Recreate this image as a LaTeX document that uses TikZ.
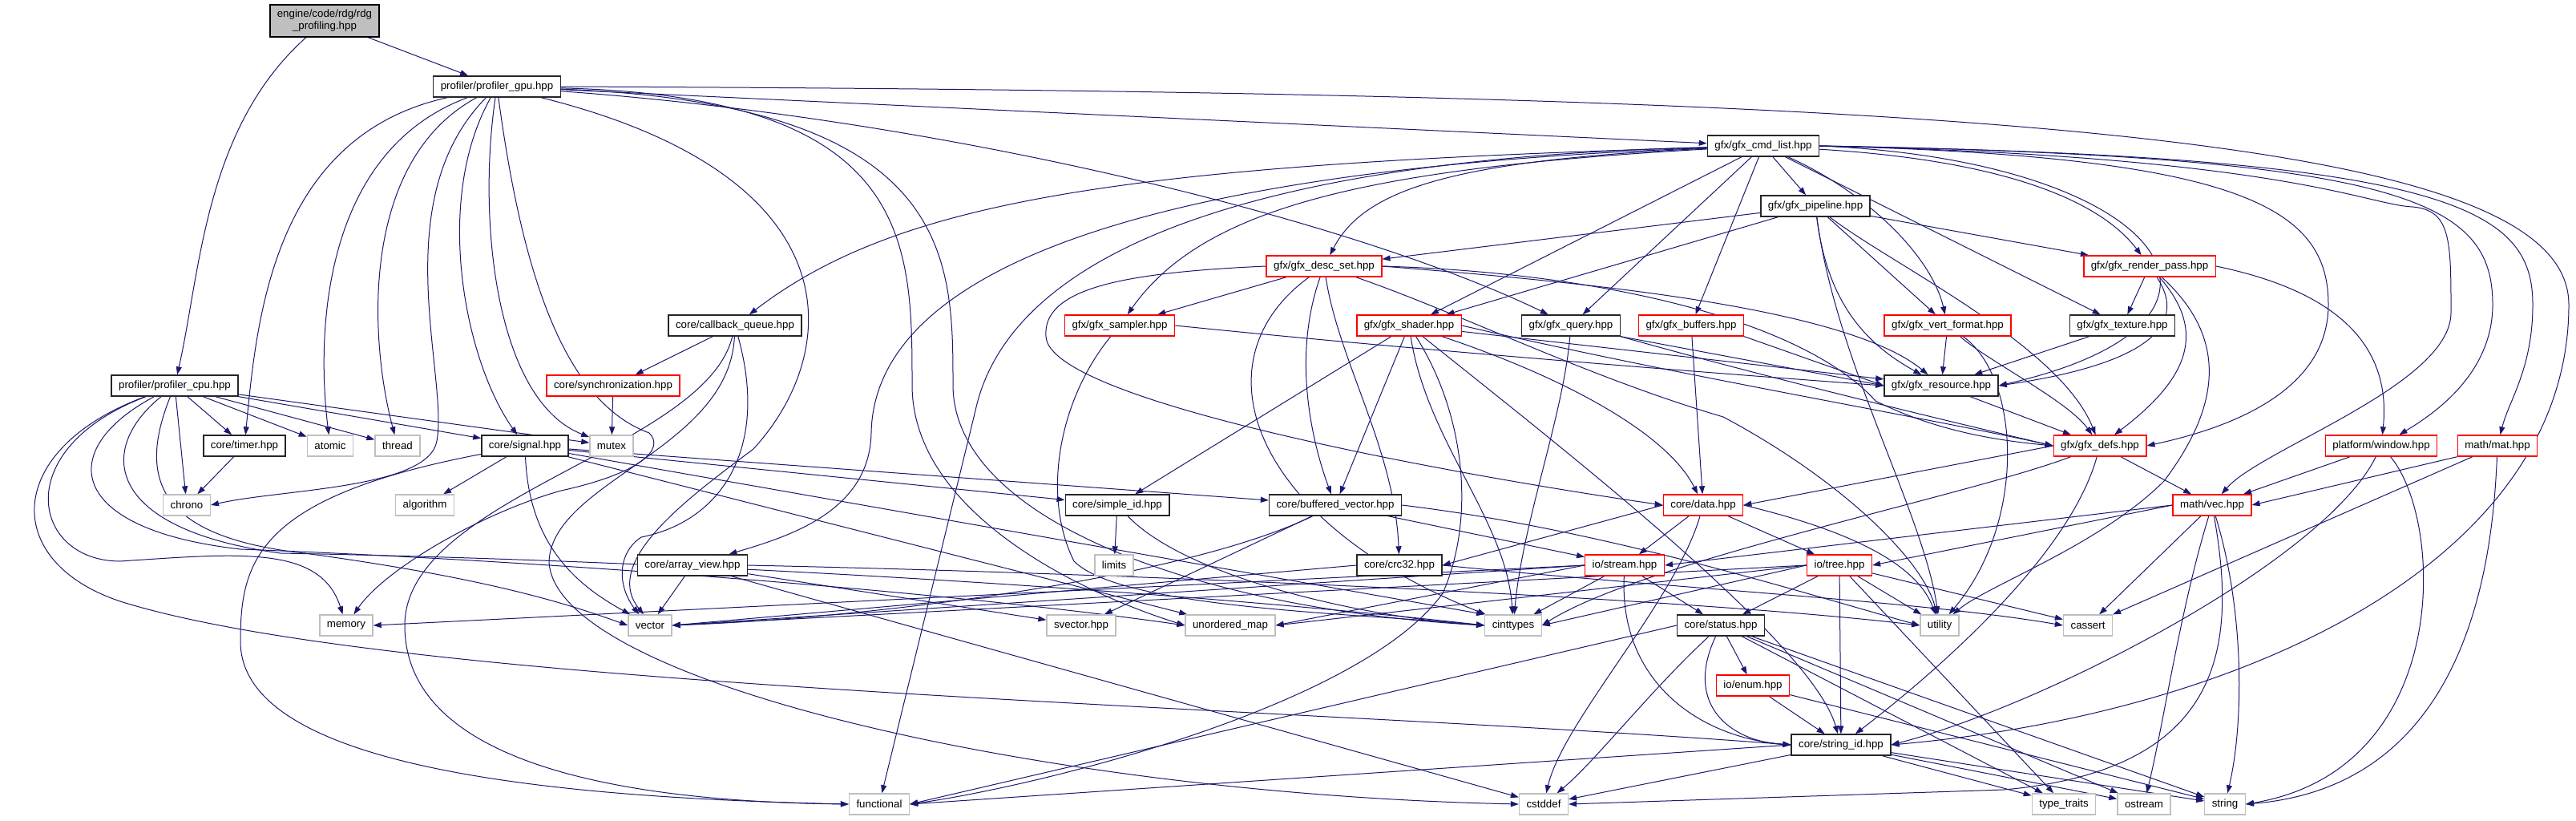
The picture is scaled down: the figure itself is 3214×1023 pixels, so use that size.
\documentclass[tikz,border=0pt]{standalone}
\usepackage{fontspec}
\setmainfont{Liberation Sans}
\usetikzlibrary{arrows.meta, backgrounds}
\definecolor{depblue}{HTML}{191970}
\definecolor{sysgray}{HTML}{BFBFBF}
\definecolor{rootgray}{HTML}{BFBFBF}

\begin{document}
\begin{tikzpicture}[
    x=1pt, y=-1pt,
    font=\fontsize{13.3}{15}\selectfont,
    filebox/.style={rectangle, fill=white, minimum height=26pt, inner xsep=9pt, inner ysep=0pt},
    inc/.style={filebox, draw=black!85, line width=1.4pt},
    incred/.style={filebox, draw=red, line width=1.4pt},
    sys/.style={filebox, draw=sysgray, line width=1.4pt},
    rootfile/.style={filebox, draw=black, fill=rootgray, line width=1.4pt, align=center, minimum height=40pt},
    dep/.style={->, draw=depblue, line width=1pt},
    >={Triangle[length=10pt, width=7pt]}
  ]
    \useasboundingbox (0,0) rectangle (3214,1023);

    % top files
    \node[rootfile] (root) at (405,26) {engine/code/rdg/rdg\\\_profiling.hpp};
    \node[inc] (gpu) at (620,108) {profiler/profiler\_gpu.hpp};
    \node[inc] (cmdlist) at (2200,182) {gfx/gfx\_cmd\_list.hpp};
    \node[inc] (pipeline) at (2265,257) {gfx/gfx\_pipeline.hpp};
    \node[incred] (descset) at (1652,332) {gfx/gfx\_desc\_set.hpp};
    \node[incred] (renderpass) at (2682,332) {gfx/gfx\_render\_pass.hpp};

    % gfx row
    \node[inc] (cbq) at (917,406) {core/callback\_queue.hpp};
    \node[incred] (sampler) at (1397,406) {gfx/gfx\_sampler.hpp};
    \node[incred] (shader) at (1758,406) {gfx/gfx\_shader.hpp};
    \node[inc] (query) at (1960,406) {gfx/gfx\_query.hpp};
    \node[incred] (buffers) at (2110,406) {gfx/gfx\_buffers.hpp};
    \node[incred] (vertfmt) at (2430,406) {gfx/gfx\_vert\_format.hpp};
    \node[inc] (texture) at (2648,406) {gfx/gfx\_texture.hpp};
    \node[inc] (cpu) at (218,481) {profiler/profiler\_cpu.hpp};
    \node[incred] (sync) at (765,481) {core/synchronization.hpp};
    \node[inc] (resource) at (2422,481) {gfx/gfx\_resource.hpp};

    % middle rows
    \node[inc] (timer) at (305,556) {core/timer.hpp};
    \node[sys] (atomic) at (412,556) {atomic};
    \node[sys] (thread) at (496,556) {thread};
    \node[inc] (signal) at (655,556) {core/signal.hpp};
    \node[sys] (mutex) at (763,556) {mutex};
    \node[incred] (gfxdefs) at (2620,556) {gfx/gfx\_defs.hpp};
    \node[incred] (window) at (2971,556) {platform/window.hpp};
    \node[incred] (mat) at (3116,556) {math/mat.hpp};
    \node[sys] (chrono) at (233,630) {chrono};
    \node[sys] (algorithm) at (530,630) {algorithm};
    \node[inc] (simpleid) at (1394,630) {core/simple\_id.hpp};
    \node[inc] (bufvec) at (1666,630) {core/buffered\_vector.hpp};
    \node[incred] (data) at (2125,630) {core/data.hpp};
    \node[incred] (vec) at (2760,630) {math/vec.hpp};
    \node[inc] (arrayview) at (864,705) {core/array\_view.hpp};
    \node[sys] (limits) at (1390,705) {limits};
    \node[inc] (crc) at (1746,705) {core/crc32.hpp};
    \node[incred] (stream) at (2027,705) {io/stream.hpp};
    \node[incred] (tree) at (2295,705) {io/tree.hpp};

    % lower rows
    \node[sys] (memory) at (432,780) {memory};
    \node[sys] (vector) at (811,780) {vector};
    \node[sys] (svector) at (1349,780) {svector.hpp};
    \node[sys] (umap) at (1535,780) {unordered\_map};
    \node[sys] (cinttypes) at (1888,780) {cinttypes};
    \node[inc] (status) at (2147,780) {core/status.hpp};
    \node[sys] (utility) at (2420,780) {utility};
    \node[sys] (cassert) at (2605,780) {cassert};
    \node[incred] (enum) at (2187,855) {io/enum.hpp};
    \node[inc] (stringid) at (2297,929) {core/string\_id.hpp};
    \node[sys] (functional) at (1097,1003) {functional};
    \node[sys] (cstddef) at (1926,1003) {cstddef};
    \node[sys] (typetraits) at (2575,1003) {type\_traits};
    \node[sys] (ostream) at (2675,1003) {ostream};
    \node[sys] (string) at (2776,1003) {string};

    \begin{pgfonlayer}{background}
    \fill[white] (0,0) rectangle (3214,1023);

    % ---- rdg_profiling ----
    \draw[dep] (root) -- (gpu);
    \draw[dep] (root) .. controls (255,160) and (250,340) .. (cpu);

    % ---- profiler_gpu ----
    \draw[dep] (gpu) -- (cmdlist);
    \draw[dep] (gpu) .. controls (1200,150) and (1700,280) .. (query);
    \draw[dep] (gpu.east) .. controls (2500,115) and (3205,170) .. (3205,380) .. controls (3205,700) and (2800,890) .. (stringid.east);
    \draw[dep] (gpu) .. controls (340,170) and (320,400) .. (timer);
    \draw[dep] (gpu) .. controls (400,190) and (395,420) .. (atomic);
    \draw[dep] (gpu) .. controls (450,200) and (460,420) .. (thread);
    \draw[dep] (gpu) .. controls (480,250) and (560,470) .. (545,550) .. controls (535,610) and (350,610) .. (chrono.east);
    \draw[dep] (gpu) .. controls (540,250) and (580,450) .. (signal);
    \draw[dep] (gpu) .. controls (595,280) and (620,500) .. (mutex);
    \draw[dep] (gpu) .. controls (650,330) and (700,500) .. (810,540) .. controls (830,560) and (800,590) .. (700,612) .. controls (600,640) and (480,710) .. (memory);
    \draw[dep] (gpu) .. controls (1070,220) and (1050,440) .. (940,560) .. controls (860,620) and (750,700) .. ([xshift=-8pt]vector.north);
    \draw[dep] (gpu) .. controls (1138,120) and (1138,300) .. (1138,480) .. controls (1138,640) and (1350,740) .. (umap.west);
    \draw[dep] (gpu) .. controls (1189,130) and (1189,320) .. (1189,480) .. controls (1189,650) and (1500,760) .. (cinttypes.west);

    % ---- profiler_cpu ----
    \draw[dep] (cpu) -- (timer);
    \draw[dep] (cpu) -- (atomic);
    \draw[dep] (cpu) -- (thread);
    \draw[dep] (cpu) -- (signal);
    \draw[dep] (cpu) -- (mutex);
    \draw[dep] (cpu) -- (chrono);
    \draw[dep] (cpu) .. controls (10,560) and (40,700) .. (150,700) .. controls (300,690) and (400,680) .. (memory);
    \draw[dep] (cpu) .. controls (5,560) and (0,700) .. (150,750) .. controls (500,860) and (1600,880) .. (stringid.west);
    \draw[dep] (cpu) .. controls (70,560) and (80,660) .. (300,685) .. controls (700,700) and (1200,740) .. (umap.west);
    \draw[dep] (cpu) .. controls (120,560) and (130,660) .. (350,690) .. controls (900,700) and (1500,740) .. (cinttypes.west);
    \draw[dep] (cpu) .. controls (170,600) and (200,670) .. (380,690) .. controls (600,720) and (700,750) .. (vector.west);

    % ---- core headers ----
    \draw[dep] (timer) -- (chrono);
    \draw[dep] (signal) -- (algorithm);
    \draw[dep] (signal) .. controls (320,620) and (300,700) .. (300,800) .. controls (300,960) and (700,995) .. (functional.west);
    \draw[dep] (signal) .. controls (660,680) and (720,730) .. (vector);
    \draw[dep] (signal) -- (simpleid);
    \draw[dep] (signal) -- (bufvec);
    \draw[dep] (signal) -- (umap);
    \draw[dep] (signal) -- (cinttypes.north west);
    \draw[dep] (cbq) -- (sync);
    \draw[dep] (cbq) .. controls (880,560) and (505,620) .. (505,780) .. controls (505,960) and (800,1000) .. (functional.west);
    \draw[dep] (cbq) .. controls (910,560) and (690,600) .. (685,700) .. controls (690,850) and (1300,990) .. (cstddef.west);
    \draw[dep] (cbq) .. controls (960,560) and (900,650) .. (800,670) .. controls (770,690) and (770,730) .. ([xshift=-14pt]vector.north);
    \draw[dep] (sync) -- (mutex);
    \draw[dep] (arrayview) -- (vector);
    \draw[dep] (arrayview) -- (svector);
    \draw[dep] (arrayview) -- (cstddef);
    \draw[dep] (arrayview.east) .. controls (1400,715) and (2100,745) .. (utility.west);
    \draw[dep] (simpleid) -- (limits);
    \draw[dep] (simpleid) .. controls (1480,720) and (1700,770) .. (cinttypes.west);
    \draw[dep] (bufvec) -- (svector);
    \draw[dep] (bufvec) .. controls (1480,720) and (1100,770) .. (vector.east);
    \draw[dep] (bufvec) -- (stream);
    \draw[dep] (bufvec.east) .. controls (2000,660) and (2250,740) .. (utility.west);
    \draw[dep] (crc.west) -- (vector.east);
    \draw[dep] (crc.east) .. controls (2100,735) and (2400,750) .. (cassert.west);

    % ---- gfx_cmd_list ----
    \draw[dep] (cmdlist) .. controls (1400,205) and (1120,250) .. (cbq);
    \draw[dep] (cmdlist) .. controls (1300,215) and (1090,380) .. (1087,540) .. controls (1085,640) and (980,670) .. (arrayview);
    \draw[dep] (cmdlist) .. controls (1450,200) and (1250,360) .. (1217,512) -- (functional);
    \draw[dep] (cmdlist) .. controls (1800,200) and (1700,240) .. (descset);
    \draw[dep] (cmdlist) .. controls (1700,210) and (1500,260) .. (sampler);
    \draw[dep] (cmdlist) -- (shader);
    \draw[dep] (cmdlist) -- (query);
    \draw[dep] (cmdlist) -- (buffers);
    \draw[dep] (cmdlist) -- (pipeline);
    \draw[dep] (cmdlist) -- (texture);
    \draw[dep] (cmdlist) .. controls (2330,240) and (2410,320) .. (vertfmt);
    \draw[dep] (cmdlist) .. controls (2500,200) and (2620,250) .. (renderpass);
    \draw[dep] (cmdlist.east) .. controls (2700,200) and (2850,400) .. (resource.east);
    \draw[dep] (cmdlist.east) .. controls (2800,195) and (2905,260) .. (2905,380) .. controls (2905,480) and (2800,530) .. (gfxdefs.east);
    \draw[dep] (cmdlist.east) .. controls (2850,195) and (2950,255) .. (3010,258) .. controls (3058,262) and (3058,300) .. (3058,390) .. controls (3058,480) and (2820,560) .. (vec);
    \draw[dep] (cmdlist.east) .. controls (3000,195) and (3110,250) .. (3110,380) .. controls (3110,470) and (3030,520) .. (window);
    \draw[dep] (cmdlist.east) .. controls (3060,195) and (3160,260) .. (3160,380) .. controls (3160,460) and (3130,500) .. (mat);

    % ---- gfx_pipeline ----
    \draw[dep] (pipeline) -- (descset);
    \draw[dep] (pipeline) -- (shader);
    \draw[dep] (pipeline) -- (renderpass);
    \draw[dep] (pipeline) -- (vertfmt);
    \draw[dep] (pipeline) .. controls (2280,380) and (2330,430) .. (resource);
    \draw[dep] (pipeline) .. controls (2360,330) and (2570,430) .. (gfxdefs);
    \draw[dep] (pipeline) .. controls (2290,450) and (2400,640) .. (utility);

    % ---- gfx_desc_set ----
    \draw[dep] (descset) -- (sampler);
    \draw[dep] (descset.east) .. controls (1950,350) and (2300,380) .. (resource);
    \draw[dep] (descset.east) .. controls (2000,340) and (2250,400) .. (2340,500) .. controls (2420,540) and (2500,550) .. (gfxdefs.west);
    \draw[dep] (descset.west) .. controls (1400,340) and (1300,360) .. (1305,420) .. controls (1310,500) and (1800,590) .. (data.west);
    \draw[dep] (descset) .. controls (1670,450) and (1740,560) .. (crc);
    \draw[dep] (descset) .. controls (1610,450) and (1640,560) .. (bufvec);
    \draw[dep] (descset) .. controls (1490,450) and (1560,650) .. (cinttypes);
    \draw[dep] (descset) .. controls (1820,390) and (1980,470) .. (2150,520) .. controls (2300,600) and (2400,700) .. (utility);

    % ---- gfx_shader, query, buffers, sampler ----
    \draw[dep] (shader) -- (simpleid);
    \draw[dep] (shader) -- (bufvec);
    \draw[dep] (shader) .. controls (1830,520) and (1840,650) .. (1800,740) .. controls (1700,880) and (1300,980) .. (functional.east);
    \draw[dep] (shader) .. controls (1780,550) and (1880,650) .. (cinttypes);
    \draw[dep] (shader) .. controls (1950,560) and (2260,800) .. (stringid);
    \draw[dep] (shader) .. controls (1950,470) and (2080,540) .. (data);
    \draw[dep] (shader) -- (resource);
    \draw[dep] (shader.east) .. controls (2100,470) and (2400,520) .. (gfxdefs.west);
    \draw[dep] (query.south east) -- (resource.west);
    \draw[dep] (query) .. controls (1950,520) and (1900,650) .. (cinttypes);
    \draw[dep] (query.south east) .. controls (2200,470) and (2450,530) .. (gfxdefs.west);
    \draw[dep] (buffers.south east) -- (resource.west);
    \draw[dep] (buffers) -- (data);
    \draw[dep] (sampler.east) .. controls (1800,440) and (2200,470) .. (resource.west);
    \draw[dep] (sampler) .. controls (1320,500) and (1300,620) .. (1340,700) .. controls (1400,760) and (1700,765) .. (cinttypes.west);

    % ---- render pass, vert format, texture, resource ----
    \draw[dep] (renderpass) -- (texture);
    \draw[dep] (renderpass) .. controls (2740,420) and (2640,460) .. (resource.east);
    \draw[dep] (renderpass) .. controls (2760,420) and (2720,480) .. (gfxdefs);
    \draw[dep] (renderpass.east) .. controls (2900,360) and (2985,420) .. (window);
    \draw[dep] (renderpass) .. controls (2790,430) and (2760,520) .. (2700,600) .. controls (2620,680) and (2480,730) .. (utility);
    \draw[dep] (vertfmt) -- (resource);
    \draw[dep] (vertfmt) .. controls (2480,450) and (2580,500) .. (gfxdefs);
    \draw[dep] (vertfmt) .. controls (2520,470) and (2530,650) .. (utility);
    \draw[dep] (texture) -- (resource);
    \draw[dep] (resource) -- (gfxdefs);

    % ---- gfx_defs, platform, math ----
    \draw[dep] (gfxdefs.west) -- (data.east);
    \draw[dep] (gfxdefs) .. controls (2450,620) and (2050,700) .. (cinttypes.east);
    \draw[dep] (gfxdefs) .. controls (2580,700) and (2400,850) .. (stringid);
    \draw[dep] (gfxdefs) -- (vec);
    \draw[dep] (window) -- (vec);
    \draw[dep] (window) .. controls (2900,700) and (2550,880) .. (stringid.east);
    \draw[dep] (window) .. controls (3050,650) and (3060,960) .. (string.east);
    \draw[dep] (mat.south west) -- (vec.east);
    \draw[dep] (mat) -- (cassert);
    \draw[dep] (mat) .. controls (3110,700) and (3080,980) .. (string.east);
    \draw[dep] (vec.west) -- (stream.east);
    \draw[dep] (vec.west) -- (tree.east);
    \draw[dep] (vec) -- (cassert);
    \draw[dep] (vec) .. controls (2720,760) and (2700,900) .. (ostream);
    \draw[dep] (vec) .. controls (2800,760) and (2800,900) .. (string);
    \draw[dep] (vec) .. controls (2790,800) and (2780,960) .. (2500,985) -- (cstddef.east);

    % ---- data, stream, tree ----
    \draw[dep] (data.west) -- (crc.east);
    \draw[dep] (data) -- (stream);
    \draw[dep] (data) -- (tree);
    \draw[dep] (data) .. controls (2090,750) and (1950,900) .. (cstddef);
    \draw[dep] (data.east) .. controls (2300,660) and (2390,700) .. (utility);
    \draw[dep] (stream) -- (status);
    \draw[dep] (stream) .. controls (2020,850) and (2120,920) .. (stringid.west);
    \draw[dep] (stream) -- (cinttypes);
    \draw[dep] (stream.west) -- (umap.east);
    \draw[dep] (stream.west) -- (memory.east);
    \draw[dep] (stream.west) -- (vector.east);
    \draw[dep] (tree) -- (status);
    \draw[dep] (tree) -- (stringid);
    \draw[dep] (tree) -- (typetraits);
    \draw[dep] (tree) -- (utility);
    \draw[dep] (tree) -- (cassert);
    \draw[dep] (tree.west) -- (cinttypes.east);
    \draw[dep] (tree.west) -- (umap.east);
    \draw[dep] (tree.west) -- (vector.east);

    % ---- status, enum, string_id ----
    \draw[dep] (status) -- (enum);
    \draw[dep] (status) .. controls (2100,880) and (2160,925) .. (stringid.west);
    \draw[dep] (status.west) -- (functional.east);
    \draw[dep] (status) .. controls (2060,860) and (1990,950) .. (cstddef);
    \draw[dep] (status) -- (typetraits);
    \draw[dep] (status) -- (ostream);
    \draw[dep] (status) -- (string);
    \draw[dep] (enum) -- (stringid);
    \draw[dep] (enum) -- (string);
    \draw[dep] (stringid.west) -- (functional.east);
    \draw[dep] (stringid) -- (cstddef);
    \draw[dep] (stringid) -- (typetraits);
    \draw[dep] (stringid) -- (ostream);
    \draw[dep] (stringid) -- (string);
    \end{pgfonlayer}
\end{tikzpicture}
\end{document}
